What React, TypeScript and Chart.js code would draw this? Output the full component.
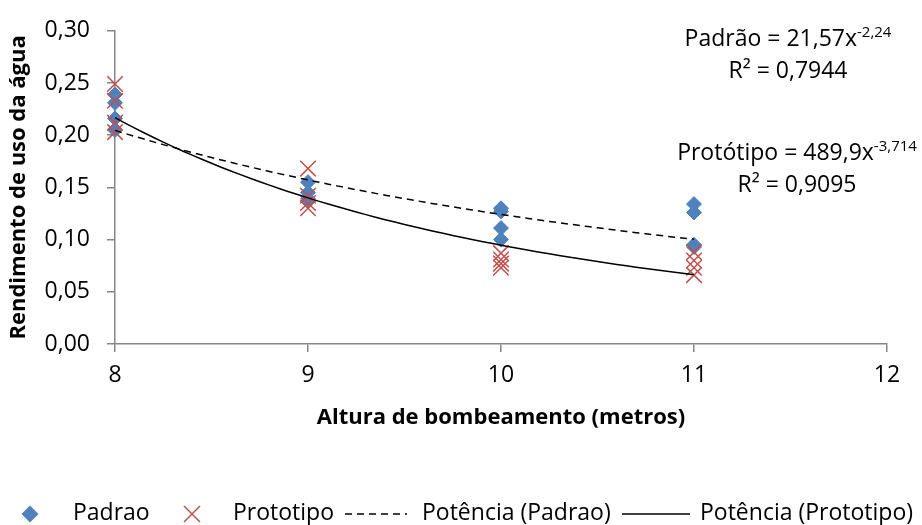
import React, { useEffect, useRef } from 'react';
import { Chart, registerables } from 'chart.js';

Chart.register(...registerables);

// ---- data ----
const padraoX = [8, 8, 8, 8, 9, 9, 9, 9, 10, 10, 10, 10, 11, 11, 11, 11];
const padraoY = [0.239, 0.231, 0.216, 0.205, 0.155, 0.145, 0.139, 0.137, 0.130, 0.127, 0.111, 0.100, 0.134, 0.126, 0.095, 0.093];
const prototipoX = [8, 8, 8, 8, 9, 9, 9, 9, 10, 10, 10, 10, 11, 11, 11, 11];
const prototipoY = [0.249, 0.233, 0.212, 0.203, 0.168, 0.142, 0.135, 0.130, 0.087, 0.081, 0.077, 0.073, 0.088, 0.080, 0.073, 0.066];

// power trendline coefficients as printed on the chart: y = a * x^b
const padraoTrend = { a: 21.57, b: -2.24, r2: '0,7944', aLabel: '21,57', bLabel: '-2,24' };
const prototipoTrend = { a: 489.9, b: -3.714, r2: '0,9095', aLabel: '489,9', bLabel: '-3,714' };
const trendRange = [8, 11];

const seriesNames = ['Padrao', 'Prototipo', 'Potência (Padrao)', 'Potência (Prototipo)'];
const xTitle = 'Altura de bombeamento (metros)';
const yTitle = 'Rendimento de uso da água';

const BLUE = '#4F81BD';
const RED = '#C0504D';
const AXIS = '#868686';
const FONT = "'Open Sans', 'Noto Sans', sans-serif";

function trendPoints(t: { a: number; b: number }) {
  const pts: { x: number; y: number }[] = [];
  const n = 60;
  for (let i = 0; i <= n; i++) {
    const x = trendRange[0] + ((trendRange[1] - trendRange[0]) * i) / n;
    pts.push({ x, y: t.a * Math.pow(x, t.b) });
  }
  return pts;
}

function drawEq(ctx: CanvasRenderingContext2D, main: string, sup: string, cx: number, baseline: number) {
  ctx.font = `23px ${FONT}`;
  const w1 = ctx.measureText(main).width;
  ctx.font = `15px ${FONT}`;
  const w2 = sup ? ctx.measureText(sup).width : 0;
  const start = cx - (w1 + w2) / 2;
  ctx.font = `23px ${FONT}`;
  ctx.fillText(main, start, baseline);
  if (sup) {
    ctx.font = `15px ${FONT}`;
    ctx.fillText(sup, start + w1, baseline - 9);
  }
}

const overlayPlugin = {
  id: 'overlay',
  afterDraw(chart: any) {
    const ctx: CanvasRenderingContext2D = chart.ctx;
    ctx.save();
    ctx.fillStyle = '#000';
    ctx.textAlign = 'left';
    ctx.textBaseline = 'alphabetic';
    // equations
    drawEq(ctx, `Padrão = ${padraoTrend.aLabel}x`, padraoTrend.bLabel, 788, 46);
    drawEq(ctx, `R² = ${padraoTrend.r2}`, '', 788, 78);
    drawEq(ctx, `Protótipo = ${prototipoTrend.aLabel}x`, prototipoTrend.bLabel, 797, 160);
    drawEq(ctx, `R² = ${prototipoTrend.r2}`, '', 797, 192);

    // legend
    const ly = 514;
    const base = 520;
    ctx.font = `23px ${FONT}`;
    // diamond
    ctx.fillStyle = BLUE;
    ctx.beginPath();
    ctx.moveTo(30, ly - 8.5);
    ctx.lineTo(38.5, ly);
    ctx.lineTo(30, ly + 8.5);
    ctx.lineTo(21.5, ly);
    ctx.closePath();
    ctx.fill();
    ctx.fillStyle = '#000';
    ctx.fillText(seriesNames[0], 73, base);
    // cross
    ctx.strokeStyle = RED;
    ctx.lineWidth = 1.5;
    ctx.beginPath();
    ctx.moveTo(184, ly - 8);
    ctx.lineTo(200, ly + 8);
    ctx.moveTo(200, ly - 8);
    ctx.lineTo(184, ly + 8);
    ctx.stroke();
    ctx.fillText(seriesNames[1], 233, base);
    // dashed line
    ctx.strokeStyle = '#000';
    ctx.lineWidth = 1.5;
    ctx.setLineDash([7, 5]);
    ctx.beginPath();
    ctx.moveTo(345, ly);
    ctx.lineTo(407, ly);
    ctx.stroke();
    ctx.setLineDash([]);
    ctx.fillText(seriesNames[2], 422, base);
    // solid line
    ctx.beginPath();
    ctx.moveTo(622, ly);
    ctx.lineTo(690, ly);
    ctx.stroke();
    ctx.fillText(seriesNames[3], 700, base);
    ctx.restore();
  },
};

export default function App() {
  const ref = useRef<HTMLCanvasElement | null>(null);

  useEffect(() => {
    if (!ref.current) return;
    const chart = new Chart(ref.current, {
      type: 'scatter',
      data: {
        datasets: [
          {
            label: seriesNames[0],
            data: padraoX.map((x, i) => ({ x, y: padraoY[i] })),
            pointStyle: 'rectRot',
            pointRadius: 7.5,
            backgroundColor: BLUE,
            borderColor: BLUE,
            borderWidth: 1,
            showLine: false,
            clip: false,
            order: 2,
          },
          {
            label: seriesNames[1],
            data: prototipoX.map((x, i) => ({ x, y: prototipoY[i] })),
            pointStyle: 'crossRot',
            pointRadius: 11,
            backgroundColor: RED,
            borderColor: RED,
            borderWidth: 1.5,
            showLine: false,
            clip: false,
            order: 1,
          },
          {
            label: seriesNames[2],
            data: trendPoints(padraoTrend),
            showLine: true,
            pointRadius: 0,
            borderColor: '#000',
            borderWidth: 1.5,
            borderDash: [7, 5],
            clip: false,
            order: 0,
          },
          {
            label: seriesNames[3],
            data: trendPoints(prototipoTrend),
            showLine: true,
            pointRadius: 0,
            borderColor: '#000',
            borderWidth: 1.5,
            clip: false,
            order: 0,
          },
        ],
      } as any,
      options: {
        animation: false,
        responsive: false,
        maintainAspectRatio: false,
        layout: { padding: { top: 30, right: 35, left: 0, bottom: 90 } },
        plugins: {
          legend: { display: false },
          tooltip: { enabled: false },
        },
        scales: {
          x: {
            type: 'linear',
            min: 8,
            max: 12,
            afterFit: (s: any) => {
              s.height = 91;
            },
            ticks: {
              stepSize: 1,
              color: '#000',
              font: { family: FONT, size: 23 },
              padding: 10,
            },
            grid: {
              drawOnChartArea: false,
              drawTicks: true,
              tickLength: 8,
              color: AXIS,
              lineWidth: 1.5,
            },
            border: { display: true, color: AXIS, width: 1.5 },
            title: {
              display: true,
              text: xTitle,
              color: '#000',
              font: { family: FONT, size: 22, weight: 'bold' },
              padding: { top: 4, bottom: 4 },
            },
          },
          y: {
            type: 'linear',
            min: 0,
            max: 0.3,
            afterFit: (s: any) => {
              s.width = 115;
            },
            ticks: {
              stepSize: 0.05,
              color: '#000',
              font: { family: FONT, size: 23 },
              padding: 17,
              callback: (v: any) => Number(v).toFixed(2).replace('.', ','),
            },
            grid: {
              drawOnChartArea: false,
              drawTicks: true,
              tickLength: 8,
              color: AXIS,
              lineWidth: 1.5,
            },
            border: { display: true, color: AXIS, width: 1.5 },
            title: {
              display: true,
              text: yTitle,
              color: '#000',
              font: { family: FONT, size: 22, weight: 'bold' },
              padding: { top: 6, bottom: 4 },
            },
          },
        },
      } as any,
      plugins: [overlayPlugin],
    });
    return () => chart.destroy();
  }, []);

  return (
    <div style={{ position: 'fixed', left: 0, top: 0, width: 922, height: 525, background: '#fff' }}>
      <canvas ref={ref} width={922} height={525} style={{ width: 922, height: 525, display: 'block' }} />
    </div>
  );
}
